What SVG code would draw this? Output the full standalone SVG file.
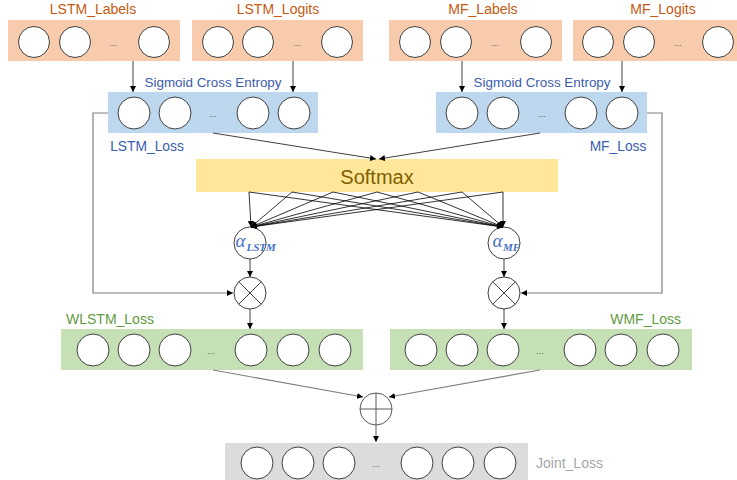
<svg xmlns="http://www.w3.org/2000/svg" width="737" height="480" viewBox="0 0 737 480">
<defs>
<style>
.c{fill:#fff;stroke:#404040;stroke-width:1}
.or{fill:#F8CBAD}
.bl{fill:#BDD7EE}
.gr{fill:#C5E0B4}
.gy{fill:#DCDCDC}
.t{font-family:"Liberation Sans",Arial,sans-serif;font-size:14px}
.to{fill:#C55A11}
.tb{fill:#3A5DAE}
.tg{fill:#629A3E}
.tgy{fill:#A6A6A6}
.dots{font-family:"Liberation Sans",Arial,sans-serif;font-size:9px;fill:#595959;text-anchor:middle}
.ln{fill:none;stroke:#404040;stroke-width:1}
.lg{fill:none;stroke:#7F7F7F;stroke-width:1.2}
.lk{fill:none;stroke:#000;stroke-width:0.8}
.op{fill:#fff;stroke:#404040;stroke-width:1}
.al{font-family:"Liberation Serif","Times New Roman",serif;font-style:italic;fill:#4472C4}
</style>
<marker id="ah" viewBox="0 0 6 6" refX="6" refY="3" markerWidth="6" markerHeight="6" markerUnits="userSpaceOnUse" orient="auto">
<path d="M0,0 L6,3 L0,6 z" fill="#000"/>
</marker>
</defs>
<rect width="737" height="480" fill="#fff"/>

<g id="lstm_labels">
<rect class="or" x="8" y="20" width="172" height="41"/>
<circle class="c" cx="34" cy="42" r="15.5"/>
<circle class="c" cx="75" cy="42" r="15.5"/>
<circle class="c" cx="154" cy="42" r="15.5"/>
<text class="dots" x="113" y="46">...</text>
<text class="t to" x="93" y="14" text-anchor="middle">LSTM_Labels</text>
</g>
<g id="lstm_logits">
<rect class="or" x="192" y="20" width="171" height="41"/>
<circle class="c" cx="218" cy="42" r="15.5"/>
<circle class="c" cx="258" cy="42" r="15.5"/>
<circle class="c" cx="337" cy="42" r="15.5"/>
<text class="dots" x="297" y="46">...</text>
<text class="t to" x="278" y="14" text-anchor="middle">LSTM_Logits</text>
</g>
<g id="mf_labels">
<rect class="or" x="389" y="20" width="173" height="41"/>
<circle class="c" cx="415" cy="42" r="15.5"/>
<circle class="c" cx="456" cy="42" r="15.5"/>
<circle class="c" cx="536" cy="42" r="15.5"/>
<text class="dots" x="495" y="46">...</text>
<text class="t to" x="483" y="14" text-anchor="middle">MF_Labels</text>
</g>
<g id="mf_logits">
<rect class="or" x="573" y="20" width="170" height="41"/>
<circle class="c" cx="598" cy="42" r="15.5"/>
<circle class="c" cx="639" cy="42" r="15.5"/>
<circle class="c" cx="718" cy="42" r="15.5"/>
<text class="dots" x="678" y="46">...</text>
<text class="t to" x="663" y="14" text-anchor="middle">MF_Logits</text>
</g>

<g id="lstm_loss">
<rect class="bl" x="108" y="92" width="210" height="41"/>
<circle class="c" cx="134" cy="113" r="16"/>
<circle class="c" cx="175" cy="113" r="16"/>
<circle class="c" cx="253" cy="113" r="16"/>
<circle class="c" cx="294" cy="113" r="16"/>
<text class="dots" x="213" y="117">...</text>
<text class="t tb" x="213" y="87" text-anchor="middle" style="font-size:13.4px">Sigmoid Cross Entropy</text>
<text class="t tb" x="147" y="151" text-anchor="middle" style="font-size:13.8px">LSTM_Loss</text>
</g>
<g id="mf_loss">
<rect class="bl" x="436" y="92" width="211" height="41"/>
<circle class="c" cx="462" cy="113" r="16"/>
<circle class="c" cx="503" cy="113" r="16"/>
<circle class="c" cx="581" cy="113" r="16"/>
<circle class="c" cx="622" cy="113" r="16"/>
<text class="dots" x="542" y="117">...</text>
<text class="t tb" x="542" y="87" text-anchor="middle" style="font-size:13.4px">Sigmoid Cross Entropy</text>
<text class="t tb" x="618" y="151" text-anchor="middle" style="font-size:13.8px">MF_Loss</text>
</g>

<g id="softmax">
<rect x="196" y="159" width="362" height="33" fill="#FFE699"/>
<text x="377" y="184" text-anchor="middle" style="font-family:'Liberation Sans',Arial,sans-serif;font-size:20px;fill:#7F6000">Softmax</text>
</g>

<g id="alpha_lstm">
<circle class="op" cx="250" cy="243" r="16"/>
<text class="al" x="235.5" y="247" style="font-size:19px">α</text>
<text class="al" x="246.5" y="250.5" style="font-size:11px;font-weight:bold">LSTM</text>
</g>
<g id="alpha_mf">
<circle class="op" cx="504" cy="243" r="16"/>
<text class="al" x="492.5" y="247" style="font-size:19px">α</text>
<text class="al" x="503" y="250.5" style="font-size:11px;font-weight:bold">MF</text>
</g>

<g id="mul_lstm">
<circle class="op" cx="250" cy="293" r="16"/>
<path class="ln" d="M238.7,281.7 L261.3,304.3 M261.3,281.7 L238.7,304.3"/>
</g>
<g id="mul_mf">
<circle class="op" cx="504" cy="293" r="16"/>
<path class="ln" d="M492.7,281.7 L515.3,304.3 M515.3,281.7 L492.7,304.3"/>
</g>

<g id="wlstm_loss">
<rect class="gr" x="61" y="329" width="302" height="41"/>
<circle class="c" cx="93" cy="350" r="16"/>
<circle class="c" cx="134" cy="350" r="16"/>
<circle class="c" cx="175" cy="350" r="16"/>
<circle class="c" cx="251" cy="350" r="16"/>
<circle class="c" cx="293" cy="350" r="16"/>
<circle class="c" cx="335" cy="350" r="16"/>
<text class="dots" x="211" y="354">...</text>
<text class="t tg" x="66" y="324">WLSTM_Loss</text>
</g>
<g id="wmf_loss">
<rect class="gr" x="390" y="329" width="302" height="41"/>
<circle class="c" cx="421" cy="350" r="16"/>
<circle class="c" cx="462" cy="350" r="16"/>
<circle class="c" cx="503" cy="350" r="16"/>
<circle class="c" cx="580" cy="350" r="16"/>
<circle class="c" cx="621" cy="350" r="16"/>
<circle class="c" cx="663" cy="350" r="16"/>
<text class="dots" x="540" y="354">...</text>
<text class="t tg" x="681" y="324" text-anchor="end">WMF_Loss</text>
</g>

<g id="sum">
<circle class="op" cx="376" cy="409" r="16" style="stroke:#595959"/>
<path d="M360,409 H392 M376,393 V425" fill="none" stroke="#595959" stroke-width="1"/>
</g>

<g id="joint_loss">
<rect class="gy" x="225" y="443" width="303" height="40"/>
<circle class="c" cx="257" cy="463" r="16"/>
<circle class="c" cx="298" cy="463" r="16"/>
<circle class="c" cx="339" cy="463" r="16"/>
<circle class="c" cx="417" cy="463" r="16"/>
<circle class="c" cx="458" cy="463" r="16"/>
<circle class="c" cx="500" cy="463" r="16"/>
<text class="dots" x="376" y="467">...</text>
<text class="t tgy" x="536" y="468">Joint_Loss</text>
</g>

<g id="connectors">
<path class="ln" d="M133,61 V92" marker-end="url(#ah)"/>
<path class="ln" d="M293,61 V92" marker-end="url(#ah)"/>
<path class="ln" d="M462,61 V92" marker-end="url(#ah)"/>
<path class="ln" d="M622,61 V92" marker-end="url(#ah)"/>
<path class="ln" d="M213,133 L376,159" marker-end="url(#ah)"/>
<path class="ln" d="M540,133 L379,159" marker-end="url(#ah)"/>
<path class="lg" d="M108,113 H93 V293 H233" marker-end="url(#ah)"/>
<path class="lg" d="M647,113 H662 V293 H521" marker-end="url(#ah)"/>
<path class="lk" d="M249,192 L251,227" marker-end="url(#ah)"/>
<path class="lk" d="M292,192 L251,227" marker-end="url(#ah)"/>
<path class="lk" d="M333,192 L251,227" marker-end="url(#ah)"/>
<path class="lk" d="M377,192 L251,227" marker-end="url(#ah)"/>
<path class="lk" d="M418,192 L251,227" marker-end="url(#ah)"/>
<path class="lk" d="M462,192 L251,227" marker-end="url(#ah)"/>
<path class="lk" d="M503,192 L251,227" marker-end="url(#ah)"/>
<path class="lk" d="M249,192 L503,227" marker-end="url(#ah)"/>
<path class="lk" d="M292,192 L503,227" marker-end="url(#ah)"/>
<path class="lk" d="M333,192 L503,227" marker-end="url(#ah)"/>
<path class="lk" d="M377,192 L503,227" marker-end="url(#ah)"/>
<path class="lk" d="M418,192 L503,227" marker-end="url(#ah)"/>
<path class="lk" d="M462,192 L503,227" marker-end="url(#ah)"/>
<path class="lk" d="M503,192 L503,227" marker-end="url(#ah)"/>
<path class="ln" d="M250,259 V277" marker-end="url(#ah)"/>
<path class="ln" d="M504,259 V277" marker-end="url(#ah)"/>
<path class="ln" d="M250,309 V329" marker-end="url(#ah)"/>
<path class="ln" d="M504,309 V329" marker-end="url(#ah)"/>
<path class="lg" d="M213,370 L363,397" marker-end="url(#ah)"/>
<path class="lg" d="M540,370 L389,397" marker-end="url(#ah)"/>
<path class="lg" d="M376,425 V442" marker-end="url(#ah)"/>
</g>
</svg>
